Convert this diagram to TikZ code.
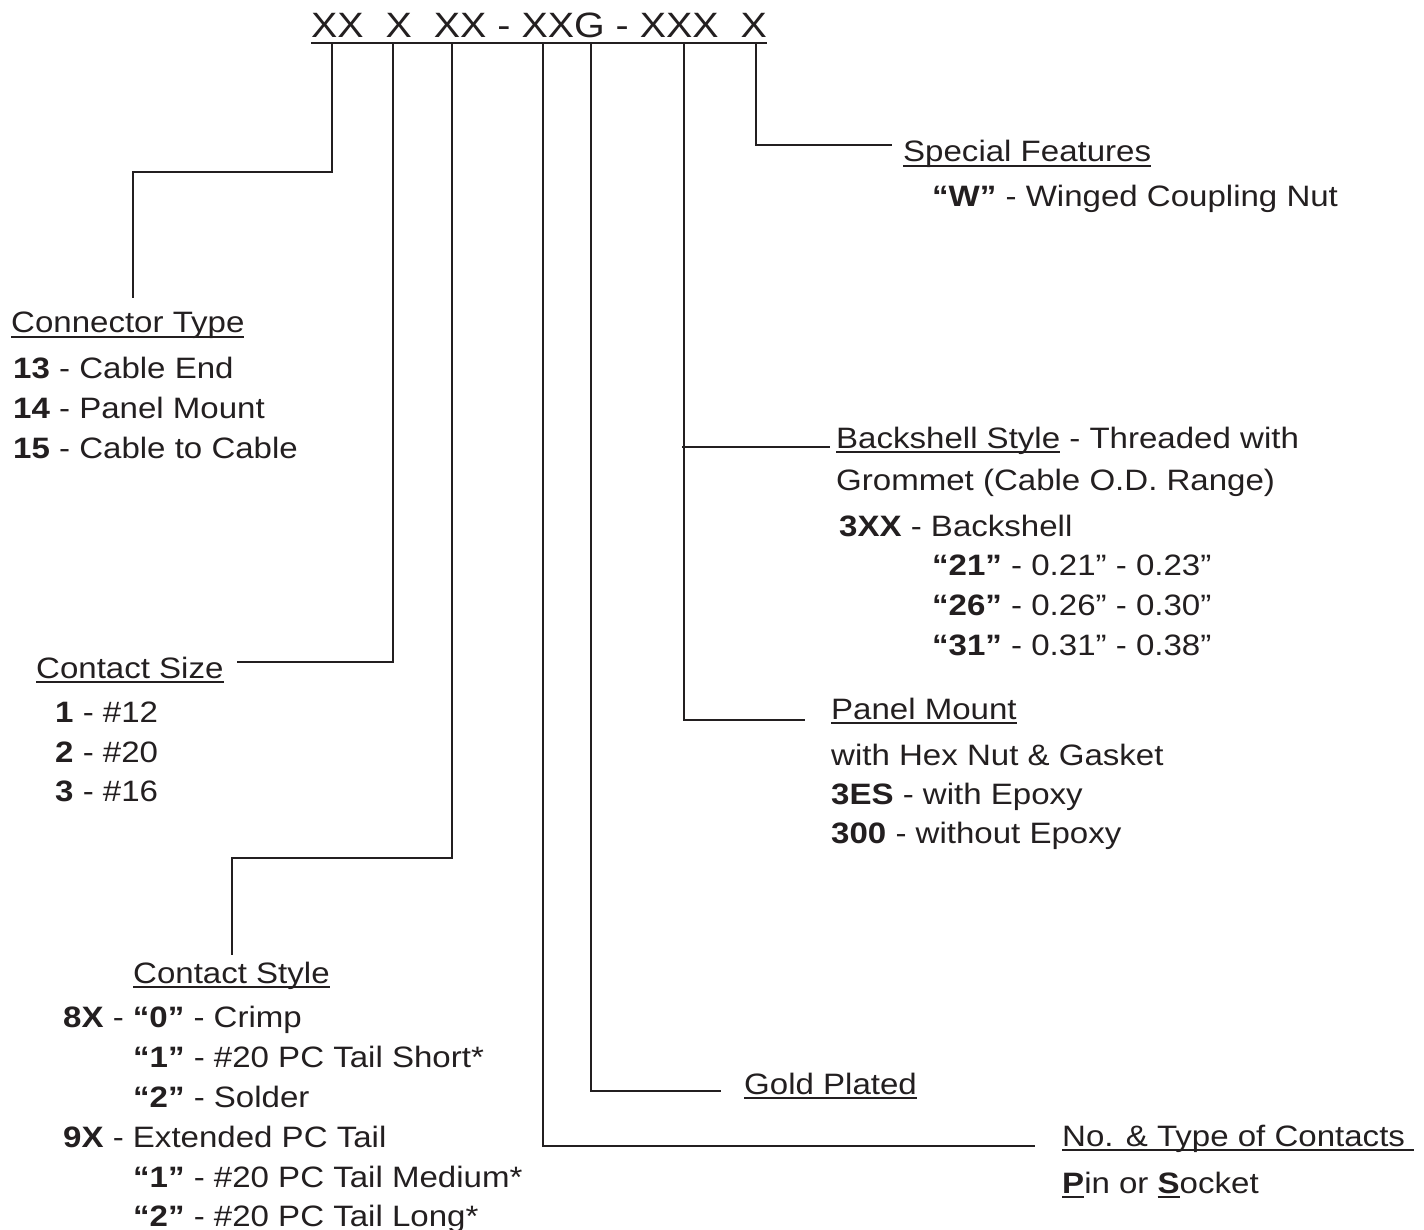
\documentclass[tikz,border=0pt]{standalone}
\usepackage{fontspec}
\setmainfont{Liberation Sans}[FakeStretch=1.12]
\definecolor{ink}{HTML}{231F20}
\newcommand{\myul}[1]{\setbox0\hbox{#1}\rlap{\rule[-4.6pt]{\wd0}{1.8pt}}\box0\relax}
\tikzset{
  txt/.style={anchor=base west, inner sep=0pt, text=ink, font=\fontsize{29.5}{36}\selectfont},
  conn/.style={draw=ink, line width=1.8pt},
}
\begin{document}
\begin{tikzpicture}[x=1pt,y=-1pt]
\useasboundingbox (0,0) rectangle (1424,1230);
% part number
\node[txt, font=\fontsize{35.2}{40}\selectfont] (code) at (311,38) {XX\ \ X\ \ XX - XXG - XXX\ \ X};
\draw[conn, line width=2.6pt] ([yshift=-5pt]code.base west) -- ([yshift=-5pt]code.base east);
% tick points
\coordinate (t1) at (332,43);
\coordinate (t2) at (393,43);
\coordinate (t3) at (452,43);
\coordinate (t4) at (543,43);
\coordinate (t5) at (591,43);
\coordinate (t6) at (684,43);
\coordinate (t7) at (756,43);
\coordinate (b6) at (682,447);
% free ends
\coordinate (e1) at (133,298);
\coordinate (e2) at (237,662);
\coordinate (e3) at (232,955);
\coordinate (e4) at (1035,1146);
\coordinate (e5) at (721,1091);
\coordinate (e6) at (805,720);
\coordinate (e7) at (830,447);
\coordinate (e8) at (892,145);
% connectors
\draw[conn] (t1) -- ++(0,129) -| (e1);
\draw[conn] (t2) |- (e2);
\draw[conn] (t3) -- ++(0,815) -| (e3);
\draw[conn] (t4) |- (e4);
\draw[conn] (t5) |- (e5);
\draw[conn] (t6) |- (e6);
\draw[conn] (b6) -- (e7);
\draw[conn] (t7) |- (e8);
% Special features
\node[txt] (sf) at (903,162) {\myul{Special Features}};
\node[txt] (sf1) at (932,207) {\textbf{“W”} - Winged Coupling Nut};
% Connector type
\node[txt] (ct) at (11,333) {\myul{Connector Type}};
\node[txt] (ct1) at (13,378) {\textbf{13} - Cable End};
\node[txt] (ct2) at (13,418) {\textbf{14} - Panel Mount};
\node[txt] (ct3) at (13,458) {\textbf{15} - Cable to Cable};
% Contact size
\node[txt] (cs) at (36,678) {\myul{Contact Size}};
\node[txt] (cs1) at (55,722) {\textbf{1} - \#12};
\node[txt] (cs2) at (55,762) {\textbf{2} - \#20};
\node[txt] (cs3) at (55,801) {\textbf{3} - \#16};
% Contact style
\node[txt] (st) at (133,983) {\myul{Contact Style}};
\node[txt] (st1) at (63,1027) {\textbf{8X} - \textbf{“0”} - Crimp};
\node[txt] (st2) at (133,1067) {\textbf{“1”} - \#20 PC Tail Short*};
\node[txt] (st3) at (133,1107) {\textbf{“2”} - Solder};
\node[txt] (st4) at (63,1147) {\textbf{9X} - Extended PC Tail};
\node[txt] (st5) at (133,1187) {\textbf{“1”} - \#20 PC Tail Medium*};
\node[txt] (st6) at (133,1226) {\textbf{“2”} - \#20 PC Tail Long*};
% Backshell
\node[txt] (bs) at (836,448) {\myul{Backshell Style} - Threaded with};
\node[txt] (bs1) at (836,490) {Grommet (Cable O.D. Range)};
\node[txt] (bs2) at (839,536) {\textbf{3XX} - Backshell};
\node[txt] (bs3) at (932,575) {\textbf{“21”} - 0.21” - 0.23”};
\node[txt] (bs4) at (932,615) {\textbf{“26”} - 0.26” - 0.30”};
\node[txt] (bs5) at (932,655) {\textbf{“31”} - 0.31” - 0.38”};
% Panel mount
\node[txt] (pm) at (831,719) {\myul{Panel Mount}};
\node[txt] (pm1) at (831,765) {with Hex Nut \& Gasket};
\node[txt] (pm2) at (831,804) {\textbf{3ES} - with Epoxy};
\node[txt] (pm3) at (831,843) {\textbf{300} - without Epoxy};
% Gold plated
\node[txt] (gp) at (744,1094) {\myul{Gold Plated}};
% Number and type of contacts
\node[txt] (nt) at (1062,1146) {\myul{No. \& Type of Contacts\ }};
\node[txt] (nt1) at (1062,1193) {\myul{\textbf{P}}in or \myul{\textbf{S}}ocket};
\end{tikzpicture}
\end{document}
